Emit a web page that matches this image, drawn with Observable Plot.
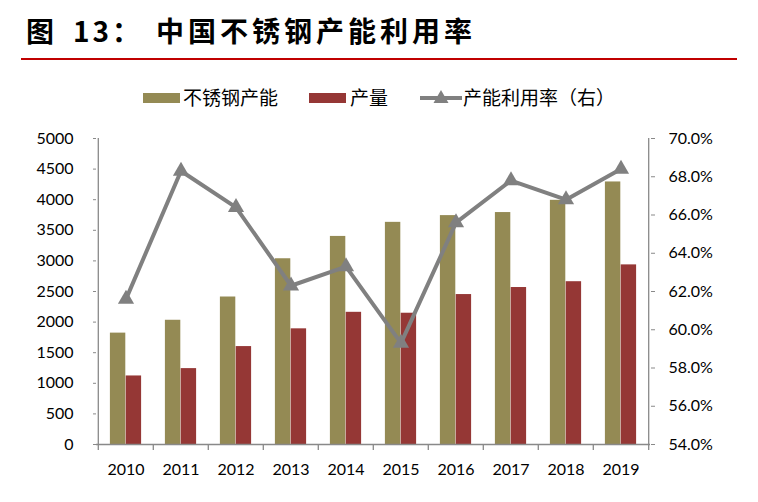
<!DOCTYPE html>
<html>
<head>
<meta charset="utf-8">
<script src="https://cdn.jsdelivr.net/npm/d3@7"></script>
<script src="https://cdn.jsdelivr.net/npm/@observablehq/plot@0.6"></script>
<style>
  html, body { margin: 0; padding: 0; background: #fff; }
  #wrap { position: relative; width: 758px; height: 502px; overflow: hidden; background: #fff; }
  .title { position: absolute; top: 16px; font: bold 28px/28px "Noto Sans CJK SC", sans-serif; color: #000; white-space: nowrap; }
  .rule { position: absolute; left: 21px; top: 58px; width: 716px; height: 2px; background: #C00000; }
  .lg { position: absolute; font: 19px/19px "Noto Sans CJK SC", sans-serif; color: #000; white-space: nowrap; top: 87px; }
  .sw { position: absolute; top: 93px; height: 10px; width: 37px; }
  #chart { position: absolute; left: 0; top: 120px; }
</style>
</head>
<body>
<div id="wrap">
  <div class="title" style="left:26px">图</div>
  <div class="title" style="left:73px;letter-spacing:3px">13：</div>
  <div class="title" style="left:156px;letter-spacing:4px">中国不锈钢产能利用率</div>
  <div class="rule"></div>
  <div class="sw" style="left:143px;background:#948A54"></div>
  <div class="lg" style="left:183px">不锈钢产能</div>
  <div class="sw" style="left:309px;background:#953735"></div>
  <div class="lg" style="left:350px">产量</div>
  <svg style="position:absolute;left:418px;top:88px" width="46" height="20">
    <line x1="2" y1="10" x2="44" y2="10" stroke="#808080" stroke-width="4"/>
    <path d="M23,2 L30.5,15 L15.5,15 Z" fill="#808080"/>
  </svg>
  <div class="lg" style="left:463px">产能利用率（右）</div>
  <div id="chart"></div>
</div>
<script>
const years = ["2010","2011","2012","2013","2014","2015","2016","2017","2018","2019"];
const capacity = [1820, 2030, 2410, 3035, 3400, 3630, 3740, 3790, 3990, 4290];
const production = [1120, 1240, 1600, 1890, 2160, 2145, 2450, 2565, 2660, 2935];
const utilization = [61.6, 68.3, 66.4, 62.3, 63.3, 59.3, 65.6, 67.8, 66.8, 68.4];
const leftTicks = [0, 500, 1000, 1500, 2000, 2500, 3000, 3500, 4000, 4500, 5000];
const rightTicks = [54, 56, 58, 60, 62, 64, 66, 68, 70];

const rows = years.map((year, i) => ({year, capacity: capacity[i], production: production[i], util: utilization[i]}));
const rMin = rightTicks[0], rMax = rightTicks[rightTicks.length - 1];
const lMax = leftTicks[leftTicks.length - 1];
const toLeft = p => (p - rMin) / (rMax - rMin) * lMax;
const fromLeft = v => rMin + v / lMax * (rMax - rMin);

const W = 758, H = 370, ML = 96, MR = 108, MT = 18, MB = 46;
const bw = (W - ML - MR) / years.length;
const barW = 15.8;
const gap = (bw - 2 * barW) / 2;
const axisColor = "#898989";
const tickLen = 6 / (H - MT - MB) * lMax;
const fs = 16;

const chart = Plot.plot({
  width: W, height: H,
  marginLeft: ML, marginRight: MR, marginTop: MT, marginBottom: MB,
  style: {fontFamily: "Lato, 'Noto Sans', sans-serif", fontSize: "16px", color: "#000", background: "transparent"},
  x: {type: "band", domain: years, padding: 0, axis: null, label: null},
  y: {domain: [0, lMax], axis: null, label: null},
  marks: [
    Plot.barY(rows, {x: "year", y: "capacity", fill: "#948A54", insetLeft: gap, insetRight: gap + barW}),
    Plot.barY(rows, {x: "year", y: "production", fill: "#953735", insetLeft: gap + barW, insetRight: gap}),
    Plot.ruleY([0], {stroke: axisColor, strokeWidth: 1.3}),
    Plot.ruleX([years[0]], {x: d => d, dx: -bw / 2, stroke: axisColor, strokeWidth: 1.3}),
    Plot.ruleX([years[years.length - 1]], {x: d => d, dx: bw / 2, stroke: axisColor, strokeWidth: 1.3}),
    Plot.ruleX(years, {x: d => d, dx: -bw / 2, y1: 0, y2: -tickLen, stroke: axisColor, strokeWidth: 1.3}),
    Plot.ruleX([years[years.length - 1]], {x: d => d, dx: bw / 2, y1: 0, y2: -tickLen, stroke: axisColor, strokeWidth: 1.3}),
    Plot.axisX({tickSize: 0, tickPadding: 19, label: null, fontSize: fs}),
    Plot.axisY(leftTicks, {anchor: "left", tickSize: 3, tickPadding: 20, stroke: axisColor, label: null, fontSize: fs, tickFormat: d => String(d)}),
    Plot.axisY(rightTicks.map(toLeft), {anchor: "right", tickSize: 4, tickPadding: 14, stroke: axisColor, label: null, fontSize: fs, tickFormat: v => fromLeft(v).toFixed(1) + "%"}),
    Plot.line(rows, {x: "year", y: d => toLeft(d.util), stroke: "#808080", strokeWidth: 4}),
    Plot.dot(rows, {x: "year", y: d => toLeft(d.util), symbol: "triangle", r: 6, fill: "#808080", stroke: "none"})
  ]
});
document.getElementById("chart").appendChild(chart);
</script>
</body>
</html>
